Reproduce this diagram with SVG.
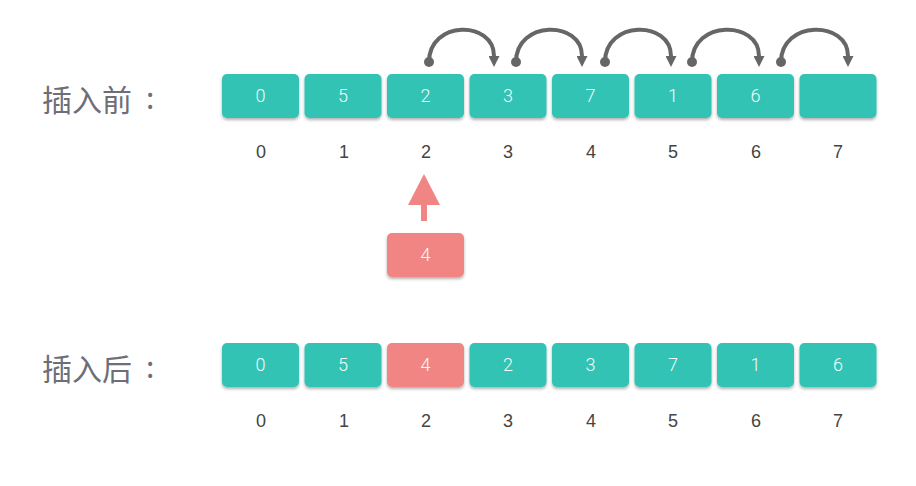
<svg xmlns="http://www.w3.org/2000/svg" width="916" height="486" viewBox="0 0 916 486">
<defs>
<filter id="sh" x="-10%" y="-20%" width="120%" height="150%">
<feDropShadow dx="0" dy="2" stdDeviation="1.5" flood-color="#000" flood-opacity="0.3"/>
</filter>
<marker id="ah" markerWidth="11" markerHeight="11" refX="0" refY="5.5" orient="auto" markerUnits="userSpaceOnUse" viewBox="0 0 11 11">
<path d="M0,0 L11,5.5 L0,11 z" fill="#666"/>
</marker>
<marker id="dot" markerWidth="11" markerHeight="11" refX="5.5" refY="5.5" markerUnits="userSpaceOnUse" viewBox="0 0 11 11">
<circle cx="5.5" cy="5.5" r="5" fill="#666"/>
</marker>
</defs>
<style>
.t{fill:#33C3B5;filter:url(#sh)}
.r{fill:#F08583;filter:url(#sh)}
.v{font-family:Roboto,"Liberation Sans",sans-serif;font-weight:300;font-size:18px;fill:#F2FBFA;text-anchor:middle}
.i{font-family:"Liberation Sans",Roboto,sans-serif;font-size:18px;fill:#444;text-anchor:middle}
.lab{font-family:"Noto Sans CJK SC","Noto Sans",sans-serif;font-size:30px;fill:#6E6E78}
.arc{fill:none;stroke:#666;stroke-width:4;marker-start:url(#dot);marker-end:url(#ah)}
</style>
<rect width="916" height="486" fill="#fff"/>
<text class="lab" x="42" y="111">插入前</text><text class="lab" x="146" y="109">:</text>
<text class="lab" x="42" y="380">插入后</text><text class="lab" x="146" y="378">:</text>

<g id="before">
<g id="b0"><rect class="t" x="222" y="74" width="77" height="44" rx="5"/><text class="v" x="260.5" y="102">0</text></g>
<g id="b1"><rect class="t" x="304.5" y="74" width="77" height="44" rx="5"/><text class="v" x="343" y="102">5</text></g>
<g id="b2"><rect class="t" x="387" y="74" width="77" height="44" rx="5"/><text class="v" x="425.5" y="102">2</text></g>
<g id="b3"><rect class="t" x="469.5" y="74" width="77" height="44" rx="5"/><text class="v" x="508" y="102">3</text></g>
<g id="b4"><rect class="t" x="552" y="74" width="77" height="44" rx="5"/><text class="v" x="590.5" y="102">7</text></g>
<g id="b5"><rect class="t" x="634.5" y="74" width="77" height="44" rx="5"/><text class="v" x="673" y="102">1</text></g>
<g id="b6"><rect class="t" x="717" y="74" width="77" height="44" rx="5"/><text class="v" x="755.5" y="102">6</text></g>
<g id="b7"><rect class="t" x="799.5" y="74" width="77" height="44" rx="5"/></g>
</g>
<g id="idx1">
<text class="i" x="261" y="158">0</text><text class="i" x="344" y="158">1</text><text class="i" x="426" y="158">2</text><text class="i" x="508" y="158">3</text><text class="i" x="591" y="158">4</text><text class="i" x="673" y="158">5</text><text class="i" x="756" y="158">6</text><text class="i" x="838" y="158">7</text>
</g>

<g id="new">
<rect class="r" x="387" y="233" width="77" height="44" rx="5"/><text class="v" x="425.5" y="261">4</text>
</g>

<g id="connectors">
<path class="arc" d="M429,62 C429,20 494,20 494,56"/>
<path class="arc" d="M516,62 C516,20 582,20 582,56"/>
<path class="arc" d="M605,62 C605,20 671,20 671,56"/>
<path class="arc" d="M692,62 C692,20 759,20 759,56"/>
<path class="arc" d="M781,62 C781,20 848,20 848,56"/>
<g id="uparrow" fill="#F08583">
<rect x="421" y="204" width="6" height="17"/>
<path d="M408,205 L440,205 L424,174 z"/>
</g>
</g>

<g id="after">
<g id="a0"><rect class="t" x="222" y="343" width="77" height="44" rx="5"/><text class="v" x="260.5" y="371">0</text></g>
<g id="a1"><rect class="t" x="304.5" y="343" width="77" height="44" rx="5"/><text class="v" x="343" y="371">5</text></g>
<g id="a2"><rect class="r" x="387" y="343" width="77" height="44" rx="5"/><text class="v" x="425.5" y="371">4</text></g>
<g id="a3"><rect class="t" x="469.5" y="343" width="77" height="44" rx="5"/><text class="v" x="508" y="371">2</text></g>
<g id="a4"><rect class="t" x="552" y="343" width="77" height="44" rx="5"/><text class="v" x="590.5" y="371">3</text></g>
<g id="a5"><rect class="t" x="634.5" y="343" width="77" height="44" rx="5"/><text class="v" x="673" y="371">7</text></g>
<g id="a6"><rect class="t" x="717" y="343" width="77" height="44" rx="5"/><text class="v" x="755.5" y="371">1</text></g>
<g id="a7"><rect class="t" x="799.5" y="343" width="77" height="44" rx="5"/><text class="v" x="838" y="371">6</text></g>
</g>
<g id="idx2">
<text class="i" x="261" y="427">0</text><text class="i" x="344" y="427">1</text><text class="i" x="426" y="427">2</text><text class="i" x="508" y="427">3</text><text class="i" x="591" y="427">4</text><text class="i" x="673" y="427">5</text><text class="i" x="756" y="427">6</text><text class="i" x="838" y="427">7</text>
</g>
</svg>
